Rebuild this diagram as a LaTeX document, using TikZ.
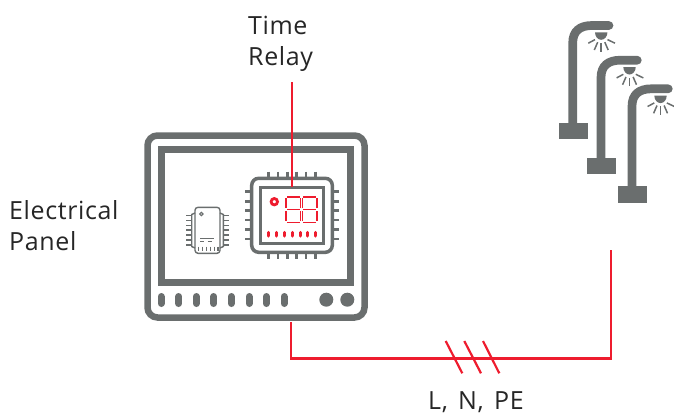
\documentclass[tikz,border=0pt]{standalone}
\usepackage{fontspec}
\setmainfont{Open Sans}[LetterSpace=2.5,WordSpace=1.45]
\definecolor{panelgray}{HTML}{6A6E6E}
\definecolor{wirered}{HTML}{EE1C2E}
\tikzset{
  caption/.style={anchor=base west,inner sep=0pt,text=black!85,font=\fontsize{25}{30}\selectfont},
  wire/.style={wirered,line width=2.2pt},
  pin/.style={panelgray,line width=2.8pt},
  thinpin/.style={panelgray,line width=1.1pt},
  segment/.style={wirered,line width=1.6pt},
  pole/.style={panelgray,line width=8.7pt,line cap=round},
  ray/.style={panelgray,line width=1.5pt},
  pill/.style={line cap=round}
}
\begin{document}
\begin{tikzpicture}[x=1pt,y=-1pt]
  \useasboundingbox (0,0) rectangle (674,416);
  \draw[panelgray,line width=6.5pt,rounded corners=10pt] (147.5,135.5) rectangle (364.5,317.5);
  \draw[panelgray,line width=7pt] (161.5,149.5) rectangle (350.5,282.5);
  \foreach \px in {161,178.7,196.3,213.7,231.3,249,266.3,284}
    \draw[panelgray,line width=7pt,pill] (\px,296.5) -- (\px,303.5);
  \fill[panelgray] (326.3,299.7) circle (7pt) (347.3,299.7) circle (7pt);
  \draw[panelgray,line width=3.5pt,rounded corners=7pt] (251.7,178.3) rectangle (332.3,252.3);
  \node[draw=panelgray,line width=3.2pt,minimum width=62.6pt,minimum height=56pt,inner sep=0pt,outer sep=0pt] (display) at (292,215.3) {};
  \foreach \px in {268.7,278,287.3,296.7,306,315.3} {
    \draw[pin] (\px,171.5) -- (\px,178);
    \draw[pin] (\px,252.5) -- (\px,259);
  }
  \foreach \py in {191.7,201.3,210.7,220,229.3,239} {
    \draw[pin] (245,\py) -- (251.5,\py);
    \draw[pin] (332.5,\py) -- (339,\py);
  }
  \draw[wirered,line width=2.8pt] (274.3,201.7) circle (3.2pt);
  \foreach \dx in {0,16.4} {
    \draw[segment] (287+\dx,196.7) -- (299.5+\dx,196.7);
    \draw[segment] (287+\dx,209.5) -- (299.5+\dx,209.5);
    \draw[segment] (287+\dx,222.5) -- (299.5+\dx,222.5);
    \draw[segment] (286+\dx,198) -- (286+\dx,208.3);
    \draw[segment] (286+\dx,211) -- (286+\dx,221.3);
    \draw[segment] (300.5+\dx,198) -- (300.5+\dx,208.3);
    \draw[segment] (300.5+\dx,211) -- (300.5+\dx,221.3);
  }
  \foreach \px in {268.7,276.7,284.7,292,300,307.7,315.3}
    \draw[wirered,line width=3pt,pill] (\px,232.3) -- (\px,236);
  \draw[panelgray,line width=1.4pt,rounded corners=3pt] (195,207.3) rectangle (220,253.3);
  \draw[panelgray,line width=1.4pt] (195,213) -- (191.7,214.5) -- (191.7,246.5) -- (195,248);
  \draw[panelgray,line width=1.4pt] (220,213) -- (223.3,214.5) -- (223.3,246.5) -- (220,248);
  \foreach \py in {215.7,220.5,225.2,230,235,240,245} {
    \draw[thinpin] (186,\py) -- (191.7,\py);
    \draw[thinpin] (223.3,\py) -- (228.5,\py);
  }
  \draw[panelgray,line width=1.1pt] (201.3,214) circle (1.7pt);
  \draw[thinpin] (200,238.3) -- (214,238.3);
  \draw[thinpin] (200,241.7) -- (204.3,241.7) (207.7,241.7) -- (211.7,241.7);
  \foreach \px in {198.7,202.7,206.7,210.7,214.7,218}
    \draw[panelgray,line width=1.3pt] (\px,246.7) -- (\px,250.7);
  \foreach \dx/\dy in {0/0,28.3/34.7,59.3/63.3} {
    \begin{scope}[shift={(\dx,\dy)}]
      \fill[panelgray] (558.7,123) rectangle (588,139.3);
      \draw[pole] (572.7,125) -- (572.7,43) .. controls (572.7,31) and (580,25.5) .. (592,25.5) -- (609,25.5);
      \fill[panelgray] (595,32.3) -- (607.4,32.3) arc[start angle=0,end angle=180,x radius=6.2,y radius=7.5] -- cycle;
      \draw[ray] (588.3,43.2) -- (595,39.6);
      \draw[ray] (594.3,50) -- (597.7,42.2);
      \draw[ray] (601.2,51.5) -- (601.2,43);
      \draw[ray] (608.2,50) -- (604.8,42.2);
      \draw[ray] (615,43.2) -- (607.5,39.6);
    \end{scope}
  }
  \node[caption] (timelabel) at (248,34) {Time};
  \node[caption] (relaylabel) at (248,65) {Relay};
  \node[caption] (electricallabel) at (9,219) {Electrical};
  \node[caption] (panellabel) at (9,250) {Panel};
  \node[caption] (lineslabel) at (428,409.5) {L, N, PE};
  \coordinate (relaytop) at (292,82);
  \coordinate (panelout) at (291,322);
  \coordinate (lampin) at (611,250);
  \coordinate (bendleft) at (291,358.5);
  \coordinate (bendright) at (611,358.5);
  \draw[wirered,line width=1.3pt] (relaytop) -- (display.north -| relaytop);
  \draw[wire] (panelout) -- (bendleft) -- (bendright) -- (lampin);
  \draw[wire] (445.7,341) -- (462.3,373.3);
  \draw[wire] (464.3,341) -- (481,373.3);
  \draw[wire] (483,341) -- (499.3,373.3);
\end{tikzpicture}
\end{document}
